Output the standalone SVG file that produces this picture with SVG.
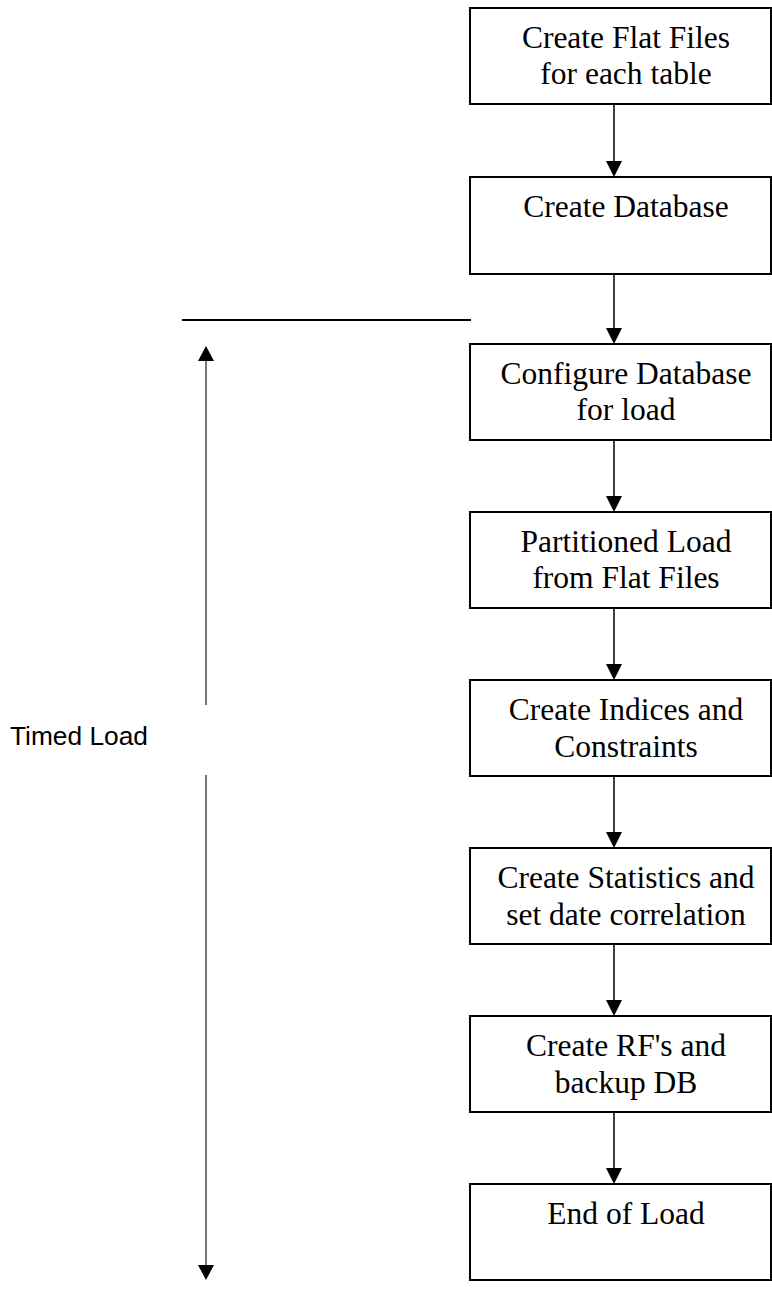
<svg xmlns="http://www.w3.org/2000/svg" width="772" height="1302" viewBox="0 0 772 1302">
<style>
.box{fill:#fff;stroke:#000;stroke-width:2}
.t{font-family:"Liberation Serif","Times New Roman",serif;font-size:31.5px;fill:#000;text-anchor:middle}
.c{stroke:#000;stroke-width:1.5;fill:none}
.g{stroke:#555;stroke-width:1.6;fill:none}
.h{fill:#000}
</style>
<rect width="772" height="1302" fill="#fff"/>
<g id="connectors">
<line class="c" x1="614" y1="104" x2="614" y2="164"/><polygon class="h" points="606,161 622,161 614,177"/>
<line class="c" x1="614" y1="274" x2="614" y2="331"/><polygon class="h" points="606,328 622,328 614,344"/>
<line class="c" x1="614" y1="440" x2="614" y2="499"/><polygon class="h" points="606,496 622,496 614,512"/>
<line class="c" x1="614" y1="608" x2="614" y2="667"/><polygon class="h" points="606,664 622,664 614,680"/>
<line class="c" x1="614" y1="776" x2="614" y2="835"/><polygon class="h" points="606,832 622,832 614,848"/>
<line class="c" x1="614" y1="944" x2="614" y2="1003"/><polygon class="h" points="606,1000 622,1000 614,1016"/>
<line class="c" x1="614" y1="1112" x2="614" y2="1171"/><polygon class="h" points="606,1168 622,1168 614,1184"/>
</g>
<g id="timed-load">
<line x1="182" y1="320" x2="471" y2="320" stroke="#000" stroke-width="2"/>
<line class="g" x1="206" y1="358" x2="206" y2="705"/>
<polygon class="h" points="198,361 214,361 206,346"/>
<line class="g" x1="206" y1="775" x2="206" y2="1267"/>
<polygon class="h" points="198,1265 214,1265 206,1280"/>
<text x="10" y="745" font-family="Liberation Sans, Arial, sans-serif" font-size="26.3" fill="#000">Timed Load</text>
</g>
<g id="n1"><rect class="box" x="470" y="8" width="301" height="96"/><text class="t" x="626" y="48">Create Flat Files</text><text class="t" x="626" y="84">for each table</text></g>
<g id="n2"><rect class="box" x="470" y="177" width="301" height="97"/><text class="t" x="626" y="217">Create Database</text></g>
<g id="n3"><rect class="box" x="470" y="344" width="301" height="96"/><text class="t" x="626" y="384">Configure Database</text><text class="t" x="626" y="420">for load</text></g>
<g id="n4"><rect class="box" x="470" y="512" width="301" height="96"/><text class="t" x="626" y="552">Partitioned Load</text><text class="t" x="626" y="588">from Flat Files</text></g>
<g id="n5"><rect class="box" x="470" y="680" width="301" height="96"/><text class="t" x="626" y="720">Create Indices and</text><text class="t" x="626" y="757">Constraints</text></g>
<g id="n6"><rect class="box" x="470" y="848" width="301" height="96"/><text class="t" x="626" y="888">Create Statistics and</text><text class="t" x="626" y="925">set date correlation</text></g>
<g id="n7"><rect class="box" x="470" y="1016" width="301" height="96"/><text class="t" x="626" y="1056">Create RF's and</text><text class="t" x="626" y="1093">backup DB</text></g>
<g id="n8"><rect class="box" x="470" y="1184" width="301" height="96"/><text class="t" x="626" y="1224">End of Load</text></g>
</svg>
